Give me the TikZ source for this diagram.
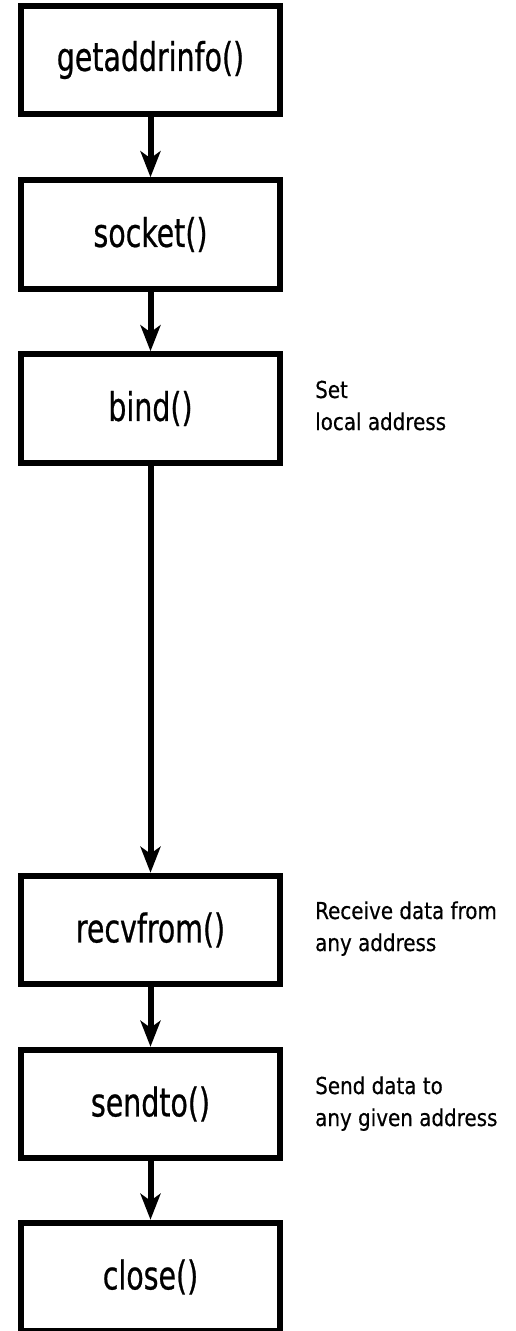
\documentclass[tikz,border=0pt]{standalone}
\usepackage{fontspec}
\setmainfont{DejaVu Sans Condensed}
\newfontfamily\callfont[FakeStretch=0.8, FakeBold=0.6]{DejaVu Sans Condensed}
\newfontfamily\notefont[FakeStretch=0.95, FakeBold=0.4]{DejaVu Sans Condensed}
\usetikzlibrary{arrows.meta}
\begin{document}
\begin{tikzpicture}[x=1pt, y=-1pt,
  call/.style={draw=black, line width=6.2pt, fill=white,
    minimum width=258.8pt, minimum height=108.3pt, inner sep=0pt,
    font=\callfont\fontsize{39.5}{44}\selectfont},
  flow/.style={line width=6pt,
    -{Stealth[length=26pt, width=20pt, inset=7pt]}},
  note/.style={anchor=base west, align=left, inner sep=0pt,
    font=\notefont\fontsize{23.3}{32}\selectfont}]
  \useasboundingbox[fill=white] (0,0) rectangle (516,1331);

  % socket call sequence
  \node[call] (gai)   at (150.5,60)    {getaddrinfo()};
  \node[call] (sock)  at (150.5,234.5) {socket()};
  \node[call] (bind)  at (150.5,408.5) {bind()};
  \node[call] (recv)  at (150.5,930)   {recvfrom()};
  \node[call] (send)  at (150.5,1104)  {sendto()};
  \node[call] (close) at (150.5,1277)  {close()};

  \draw[flow] (gai)  -- (sock);
  \draw[flow] (sock) -- (bind);
  \draw[flow] (bind) -- (recv);
  \draw[flow] (recv) -- (send);
  \draw[flow] (send) -- (close);

  % side notes
  \node[note] (nbind) at (315,430)  {Set\\local address};
  \node[note] (nrecv) at (315,951)  {Receive data from\\any address};
  \node[note] (nsend) at (315,1126) {Send data to\\any given address};
\end{tikzpicture}
\end{document}
